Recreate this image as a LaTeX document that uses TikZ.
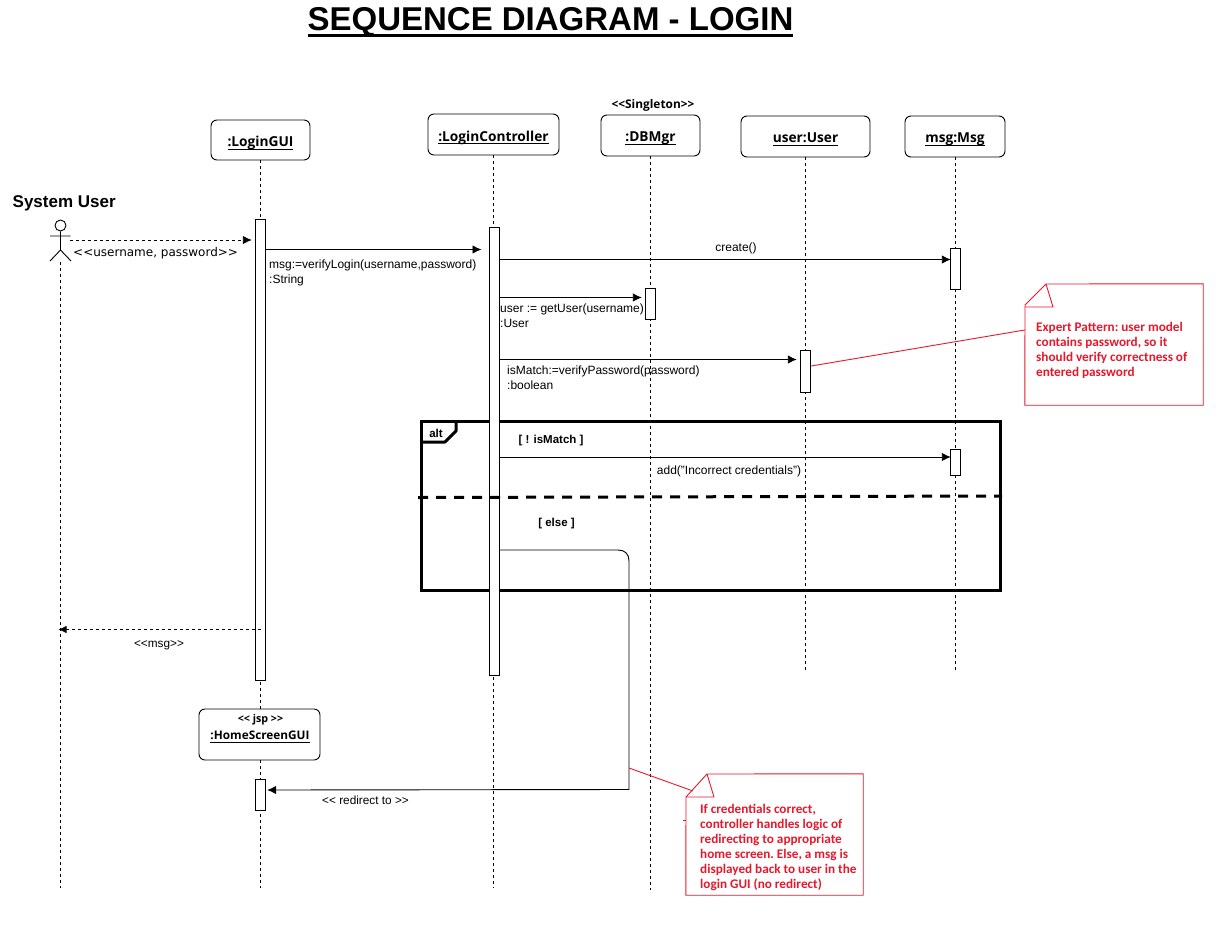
\documentclass[tikz,border=0pt]{standalone}
\usepackage{fontspec}
\setmainfont{Liberation Sans}
\newfontfamily\headfont{Open Sans}
\newfontfamily\widefont{DejaVu Sans}
\newfontfamily\notefont{Carlito}
\usetikzlibrary{arrows.meta,positioning,calc}
\definecolor{notered}{HTML}{E6182B}
\newsavebox{\ulsave}
\newcommand{\ulbox}[3]{\sbox{\ulsave}{#3}\rlap{\vrule width\wd\ulsave height -#2 depth\dimexpr#2+#1\relax}\usebox{\ulsave}}
\newcommand{\headul}[1]{\ulbox{0.9pt}{2pt}{#1}}
\newcommand{\titleul}[1]{\ulbox{2.6pt}{3.5pt}{#1}}

\begin{document}
\begin{tikzpicture}[
  x=1pt, y=-1pt,
  headbox/.style={rectangle, draw, fill=white, line width=0.9pt, rounded corners=6pt, minimum width=#1, inner sep=0pt},
  headtxt/.style={inner sep=0pt, yshift=-3pt, font=\fontsize{13.7}{15}\selectfont\headfont\bfseries},
  actbar/.style={rectangle, draw, fill=white, line width=0.9pt, minimum width=10.5pt, minimum height=#1, inner sep=0pt},
  life/.style={line width=0.8pt, dash pattern=on 3pt off 3pt},
  msgarr/.style={-{Latex[length=9pt,width=8.5pt]}, line width=0.9pt},
  lbl/.style={inner sep=0pt, align=left, font=\fontsize{12}{15}\selectfont},
  guard/.style={inner sep=0pt, font=\fontsize{11.5}{14}\selectfont\bfseries},
  notebox/.style={rectangle, minimum width=#1, inner sep=0pt},
  noteline/.style={draw=notered, line width=0.9pt},
  notetext/.style={anchor=north west, inner sep=0pt, align=left, text=notered, font=\fontsize{13.2}{15}\selectfont\notefont\bfseries\frenchspacing}
]
  \useasboundingbox (0,0) rectangle (1224,940);

  \node[inner sep=0pt, font=\fontsize{33}{38}\selectfont\bfseries] (title) at (550.5,22.5) {\titleul{SEQUENCE DIAGRAM - LOGIN}};

  \node[headbox=99pt, minimum height=40pt] (gui) at (260.5,140) {};
  \node[headbox=131pt, minimum height=41pt] (ctrl) at (493.5,134.5) {};
  \node[headbox=99pt, minimum height=41pt] (db) at (650.5,135.5) {};
  \node[headbox=129pt, minimum height=41pt] (usr) at (805.5,136.5) {};
  \node[headbox=100pt, minimum height=41pt] (msgobj) at (955,136.5) {};
  \node[headtxt] (guitxt) at (gui) {\headul{:LoginGUI}};
  \node[headtxt] (ctrltxt) at (ctrl) {\headul{:LoginController}};
  \node[headtxt] (dbtxt) at (db) {\headul{:DBMgr}};
  \node[headtxt] (usrtxt) at (usr) {\headul{user:User}};
  \node[headtxt] (msgtxt) at (msgobj) {\headul{msg:Msg}};
  \node[inner sep=0pt, font=\fontsize{11.9}{13}\selectfont\headfont\bfseries] (single) at (653,105.5) {<<Singleton>>};
  \node[inner sep=0pt, anchor=west, font=\fontsize{17}{18}\selectfont\bfseries] (sysuser) at (12.5,203.5) {System User};

  \coordinate (guiend) at (260.5,888);
  \coordinate (ctrlend) at (493.5,888);
  \coordinate (dbend) at (650.5,890);
  \coordinate (usrend) at (805.5,670);
  \coordinate (msgend) at (955,670);
  \coordinate (actorfoot) at (60.5,888);
  \draw[life] (gui.south) -- (guiend);
  \draw[life] (ctrl.south) -- (ctrlend);
  \draw[life] (db.south) -- (dbend);
  \draw[life] (usr.south) -- (usrend);
  \draw[life] (msgobj.south) -- (msgend);

  \node[circle, draw, line width=0.9pt, minimum size=11pt, inner sep=0pt] (actor) at (60.5,225.5) {};
  \draw[line width=0.9pt] (actor.south) -- (60.5,250) (50,236) -- (70.5,236) (50,261) -- (60.5,250) -- (71,261);
  \coordinate (actorhip) at (60.5,262);
  \draw[life] (actorhip) -- (actorfoot);

  \node[draw, line width=3pt, minimum width=579pt, minimum height=169pt, inner sep=0pt] (altbox) at (710.5,505.5) {};
  \draw[line width=3pt, line join=round] (456,421) -- (456,431) -- (445,442) -- (421,442);
  \node[guard] (altlbl) at (436,433.5) {alt};

  \node[actbar=461pt] (guibar) at (260.5,449.5) {};
  \node[actbar=448pt] (ctrlbar) at (494.2,451) {};
  \node[actbar=41pt] (msgbar) at (955.5,268.5) {};
  \node[actbar=31pt] (dbbar) at (650.5,303.5) {};
  \node[actbar=42pt] (usrbar) at (805.5,371) {};
  \node[actbar=26pt] (msgbarb) at (955.5,462) {};

  \coordinate (divl) at (418,497.5);
  \coordinate (divr) at (1002,496);
  \draw[line width=3pt, dash pattern=on 10pt off 8pt] (divl) -- (divr);

  \node[headbox=121pt, minimum height=51pt] (home) at (259.5,734.5) {};
  \node[inner sep=0pt, font=\fontsize{10.7}{12}\selectfont\headfont\bfseries] (homest) at (260.5,719.5) {<< jsp >>};
  \node[inner sep=0pt, font=\fontsize{11.8}{15}\selectfont\headfont\bfseries] (homename) at (260,737) {\headul{:HomeScreenGUI}};
  \node[actbar=31pt] (homebar) at (260.5,794.5) {};

  \coordinate (actorhand) at (70,240);
  \draw[msgarr, dash pattern=on 3pt off 3pt] (actorhand) -- ([xshift=-3pt]guibar.west |- 0,240);
  \node[lbl, anchor=west, font=\fontsize{12}{15}\selectfont\widefont] (lblcred) at (73,253) {<<username, password>>};
  \draw[msgarr] (guibar.east |- 0,249.5) -- ([xshift=-7pt]ctrlbar.west |- 0,249.5);
  \node[lbl, anchor=north west] (lblverify) at (269,260) {msg:=verifyLogin(username,password)\\:String};
  \draw[msgarr] (ctrlbar.east |- 0,259.5) -- ([xshift=1pt]msgbar.west |- 0,259.5);
  \node[lbl] (lblcreate) at (736,248) {create()};
  \draw[msgarr] (ctrlbar.east |- 0,297.5) -- ([xshift=-3pt]dbbar.west |- 0,297.5);
  \node[lbl, anchor=north west] (lblget) at (500,304) {user := getUser(username)\\:User};
  \draw[msgarr] (ctrlbar.east |- 0,359.5) -- ([xshift=-3pt]usrbar.west |- 0,359.5);
  \node[lbl, anchor=north west] (lblmatch) at (507,366) {isMatch:=verifyPassword(password)\\:boolean};
  \node[guard] (lblnot) at (551,441) {[ ! isMatch ]};
  \draw[msgarr] (ctrlbar.east |- 0,457) -- ([xshift=1pt]msgbarb.west |- 0,457);
  \node[lbl] (lbladd) at (729,471) {add("Incorrect credentials")};
  \node[guard] (lblelse) at (556.5,524) {[ else ]};
  \draw[msgarr] (ctrlbar.east |- 0,550) -- (618,550) .. controls (625,550) and (629,554) .. (629,561) -- (629,789.5) -- ([xshift=1pt]homebar.east |- 0,790);
  \node[lbl, font=\fontsize{11.8}{14}\selectfont] (lblredir) at (365.5,800.5) {<{}< redirect to >{}>};
  \draw[-{Latex[length=8pt,width=7.5pt]}, line width=0.8pt, dash pattern=on 3pt off 3pt] (guibar.center |- 0,629.5) -- ([xshift=-2pt]actor |- 0,629.5);
  \node[lbl, font=\fontsize{11.8}{14}\selectfont] (lblmsg) at (159,645) {<{}<msg>{}>};

  \node[notebox=178pt, minimum height=121pt] (note) at (1114,344.5) {};
  \draw[noteline] (note.south west) -- (1025,305) -- (1046,284) -- (note.north east) -- (note.south east) -- cycle;
  \draw[noteline] (1025,307) -- (1053,307) -- (1046,284);
  \node[notetext] (notetxt) at (1036,322) {Expert Pattern: user model\\contains password, so it\\should verify correctness of\\entered password};
  \draw[noteline] (usrbar.east |- 0,366) -- (note.west |- 0,330);

  \node[notebox=177pt, minimum height=121pt] (noteb) at (774.5,834.5) {};
  \draw[noteline] (noteb.south west) -- (686,797) -- (707,774) -- (noteb.north east) -- (noteb.south east) -- cycle;
  \draw[noteline] (686,797) -- (714,797) -- (707,774);
  \node[notetext] (notebtxt) at (700,804) {If credentials correct,\\controller handles logic of\\redirecting to appropriate\\home screen. Else, a msg is\\displayed back to user in the\\login GUI (no redirect)};
  \coordinate (redirtop) at (629,768);
  \coordinate (notebtip) at (693,791);
  \draw[noteline] (redirtop) -- (notebtip);
  \coordinate (ticka) at (683,820);
  \draw[noteline] (ticka) -- (noteb.west |- ticka);
\end{tikzpicture}
\end{document}
